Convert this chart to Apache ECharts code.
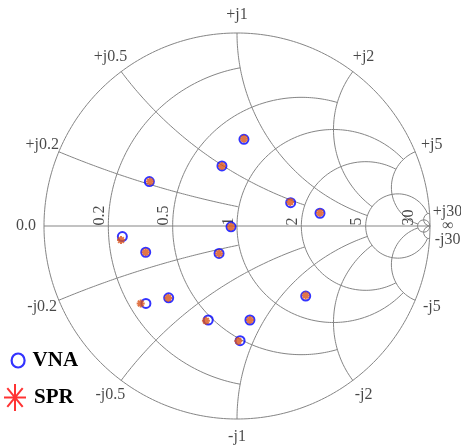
<!DOCTYPE html>
<html><head><meta charset="utf-8">
<script src="https://cdn.jsdelivr.net/npm/echarts@6.0.0/dist/echarts.min.js"></script>
<style>html,body{margin:0;padding:0;background:#fff}#c{width:461px;height:445px}</style>
</head><body><div id="c"></div>
<script>
const vnaRe = [0.036, -0.078, -0.454, 0.278, 0.430, -0.031, -0.594, -0.473, -0.093, 0.356, -0.354, -0.472, -0.149, 0.067, 0.016];
const vnaIm = [0.449, 0.311, 0.230, 0.121, 0.066, -0.004, -0.055, -0.136, -0.142, -0.363, -0.372, -0.401, -0.487, -0.487, -0.594];
const sprRe = [0.036, -0.078, -0.451, 0.276, 0.430, -0.031, -0.601, -0.473, -0.093, 0.356, -0.356, -0.499, -0.161, 0.067, 0.007];
const sprIm = [0.452, 0.311, 0.230, 0.125, 0.069, -0.004, -0.073, -0.136, -0.142, -0.360, -0.373, -0.401, -0.491, -0.487, -0.596];

// Smith grid values and the value of the other family where each line stops
const gridValues = [0.2, 0.5, 1, 2, 5, 30];
const gridLimits = [1, 2, 5, 5, 30, Infinity];
const resLabels = ['0.2', '0.5', '1', '2', '5', '30'];
const reacLabels = ['0.2', '0.5', '1', '2', '5', '30'];

const GRID_COLOR = '#858585';
const FONT = 'Liberation Serif';

function gamma(r, x) {
  const D = (r + 1) * (r + 1) + x * x;
  if (!isFinite(D)) return [1, 0];
  return [(r * r - 1 + x * x) / D, 2 * x / D];
}

const series = [];
function addLine(pts) {
  series.push({
    type: 'line', data: pts, symbol: 'none', silent: true, clip: false,
    lineStyle: { color: GRID_COLOR, width: 1 }, z: 1, animation: false
  });
}
const N = 300;
// outer circle
{
  const pts = [];
  for (let i = 0; i <= 360; i++) { const a = i * Math.PI / 180; pts.push([Math.cos(a), Math.sin(a)]); }
  addLine(pts);
}
// real axis
addLine([[-1, 0], [1, 0]]);
// resistance circles
gridValues.forEach((r, k) => {
  const lim = gridLimits[k];
  const uMax = isFinite(lim) ? Math.atan(lim) : Math.PI / 2;
  const pts = [];
  for (let i = 0; i <= N; i++) { const u = -uMax + 2 * uMax * i / N; pts.push(gamma(r, Math.tan(u))); }
  addLine(pts);
});
// reactance arcs
gridValues.forEach((x, k) => {
  const lim = gridLimits[k];
  const uMax = isFinite(lim) ? Math.atan(lim) : Math.PI / 2;
  [1, -1].forEach(s => {
    const pts = [];
    for (let i = 0; i <= N; i++) { const u = uMax * i / N; pts.push(gamma(Math.tan(u), s * x)); }
    addLine(pts);
  });
});

// inner rotated resistance labels
series.push({
  type: 'scatter', silent: true, clip: false, symbolSize: 1, z: 3,
  itemStyle: { color: 'rgba(0,0,0,0)' },
  data: gridValues.map((r, k) => ({ value: gamma(r, 0), name: resLabels[k] })),
  label: {
    show: true, formatter: p => p.name, position: [0, 0], rotate: 90,
    align: 'left', verticalAlign: 'bottom',
    fontFamily: FONT, fontSize: 16, color: '#1a1a1a'
  }
});
// outer reactance labels
const K = 211 / 193;
const outer = [
  { value: [-K, 0], name: '0.0' },
  { value: [K, 0], name: '\u221E' }
];
gridValues.forEach((x, k) => {
  const gp = gamma(0, x), gn = gamma(0, -x);
  outer.push({ value: [gp[0] * K, gp[1] * K], name: '+j' + reacLabels[k] });
  outer.push({ value: [gn[0] * K, gn[1] * K], name: '-j' + reacLabels[k] });
});
series.push({
  type: 'scatter', silent: true, clip: false, symbolSize: 1, z: 3,
  itemStyle: { color: 'rgba(0,0,0,0)' },
  data: outer,
  label: {
    show: true, formatter: p => p.name, position: 'inside',
    align: 'center', verticalAlign: 'middle',
    fontFamily: FONT, fontSize: 16, color: '#1a1a1a'
  }
});

const STAR = 'path://M5,0L5,10M0,5L10,5M1.5,1.5L8.5,8.5M1.5,8.5L8.5,1.5';
const ELLIPSE = 'path://M0,7A6,7 0 1,1 12,7A6,7 0 1,1 0,7Z';

series.push({
  name: 'VNA', type: 'scatter', z: 5, symbol: 'circle', symbolSize: 9,
  itemStyle: { color: 'rgba(0,0,0,0)', borderColor: '#0000ff', borderWidth: 2 },
  data: vnaRe.map((v, i) => [v, vnaIm[i]])
});
series.push({
  name: 'SPR', type: 'scatter', z: 6, symbol: STAR, symbolSize: 8,
  itemStyle: { color: 'rgba(0,0,0,0)', borderColor: '#D95319', borderWidth: 2 },
  data: sprRe.map((v, i) => [v, sprIm[i]])
});

const chart = echarts.init(document.getElementById('c'));
chart.setOption({
  animation: false,
  backgroundColor: '#fff',
  grid: { left: 44, top: 33, width: 386, height: 386 },
  xAxis: { type: 'value', min: -1, max: 1, show: false },
  yAxis: { type: 'value', min: -1, max: 1, show: false },
  legend: [
    {
      orient: 'vertical', left: 10.5, top: 350, padding: 0,
      itemWidth: 13, itemHeight: 14, symbolKeepAspect: false, selectedMode: false,
      data: [{ name: 'VNA', icon: ELLIPSE, itemStyle: { color: 'rgba(0,0,0,0)', borderColor: '#0000ff', borderWidth: 2.2 } }],
      textStyle: { fontFamily: FONT, fontWeight: 'bold', fontSize: 21, color: '#000', padding: [0, 0, 0, 3] }
    },
    {
      orient: 'vertical', left: 3, top: 383, padding: 0,
      itemWidth: 22, itemHeight: 27, symbolKeepAspect: false, selectedMode: false,
      data: [{ name: 'SPR', icon: STAR, itemStyle: { color: 'rgba(0,0,0,0)', borderColor: '#ff0000', borderWidth: 2 } }],
      textStyle: { fontFamily: FONT, fontWeight: 'bold', fontSize: 21, color: '#000', padding: [0, 0, 0, 3] }
    }
  ],
  series: series
});
</script>
</body></html>
